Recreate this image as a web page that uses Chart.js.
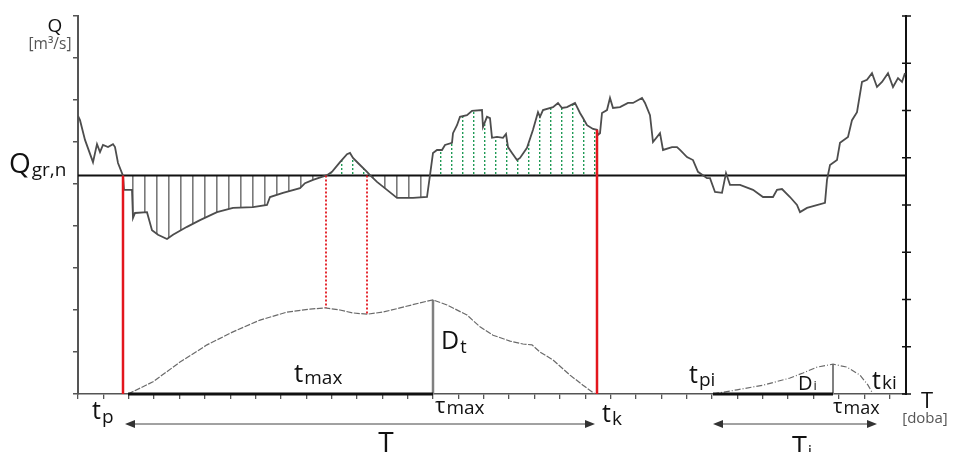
<!DOCTYPE html>
<html>
<head>
<meta charset="utf-8">
<script src="https://cdn.jsdelivr.net/npm/chart.js@4.4.1/dist/chart.umd.min.js"></script>
<style>
  html, body { margin: 0; padding: 0; background: #fff; }
  #wrap { width: 957px; height: 452px; }
</style>
</head>
<body>
<div id="wrap"><canvas id="hydro" width="957" height="452"></canvas></div>
<script>
// hydrograph Q(t) (days, m3/s)
const qDays = [0,0.08,0.28,0.6,0.76,0.88,1.0,1.2,1.4,1.48,1.6,1.8,1.84,2.16,2.2,2.28,2.76,2.96,3.2,3.56,3.8,4.36,4.88,5.56,6.2,7.0,7.56,7.68,8.2,8.88,9.08,9.4,9.96,10.16,10.48,10.76,10.88,11.0,11.2,11.56,11.68,11.96,12.36,12.76,13.4,13.96,14.08,14.2,14.36,14.56,14.68,14.96,15.0,15.16,15.28,15.56,15.76,16.16,16.2,16.36,16.48,16.56,16.76,17.0,17.12,17.2,17.36,17.56,17.68,17.96,18.2,18.4,18.48,18.6,19.0,19.2,19.36,19.56,19.88,20.08,20.2,20.36,20.6,20.76,20.8,20.88,20.96,21.16,21.28,21.4,21.68,22.0,22.2,22.56,22.68,22.88,23.0,23.28,23.4,23.76,23.96,24.08,24.36,24.6,24.8,25.16,25.28,25.48,25.76,25.92,26.08,26.48,27.0,27.4,27.8,27.96,28.16,28.48,28.76,28.88,29.16,29.88,29.96,30.08,30.36,30.48,30.8,30.96,31.16,31.36,31.56,31.76,31.96,32.16,32.4,32.6,32.8,32.96,33.08];
const qFlow = [66.2,65.2,60.5,55.2,59.5,57.6,59.3,58.8,59.5,58.8,55.0,52.0,48.6,48.6,41.9,43.1,43.3,39.0,37.9,36.9,37.9,39.8,41.4,43.3,44.3,44.5,45.0,46.9,47.9,49.0,50.2,51.0,52.1,52.9,55.2,57.1,57.4,56.2,55.0,52.9,52.1,50.5,48.6,46.7,46.7,46.9,52.1,57.4,58.1,58.1,59.3,59.8,62.1,64.0,66.0,66.4,67.4,67.6,63.6,66.0,65.7,61.0,61.2,61.0,61.9,58.8,57.4,55.7,56.2,58.6,62.9,67.1,66.0,67.6,68.3,69.3,68.1,68.3,69.3,66.9,65.7,64.0,63.1,62.9,61.7,62.1,66.9,67.6,70.5,68.1,68.3,69.3,69.3,70.5,69.3,66.4,60.0,62.1,58.1,58.8,58.8,58.1,56.4,55.7,52.9,51.4,51.4,48.1,47.9,52.6,49.8,49.8,48.6,46.9,46.9,48.6,48.8,46.9,45.0,43.3,44.3,45.5,51.0,54.5,55.7,59.8,61.2,65.2,67.1,74.3,74.8,76.4,73.1,74.3,76.4,73.1,75.2,74.3,76.4];

// threshold Q_gr,n
const qGr = 52;

// cumulated deficit of the main event
const def1Days = [2.0,3.0,4.08,5.16,6.2,7.28,8.36,9.28,9.88,10.48,11.0,11.56,12.2,12.88,13.68,14.2,14.76,15.56,16.08,16.6,17.28,17.8,18.16,18.48,19.0,19.68,20.2,20.68];
const def1Vals = [0,2.9,7.6,11.7,14.8,17.6,19.5,20.2,20.5,20.0,19.3,19.0,19.5,20.5,21.7,22.4,21.2,18.8,16.0,14.0,12.6,11.9,11.7,10.0,8.1,4.5,2.1,0];

// small event i
const def2Days = [25.4,26.36,27.4,28.48,29.0,29.56,30.2,30.76,31.28,31.6,31.8];
const def2Vals = [0,1.0,2.1,3.8,5.0,6.4,7.1,6.4,4.5,2.1,0];

// event times (days)
const tP = 1.8, tK = 20.76, tauMax = 14.2, dtMax = 22.4;
const pooled = [9.92, 11.56];       // dotted red lines
const pooledDef = [20.5, 19.0];
const tPi = 25.4, tauMaxI = 30.2, diMax = 7.1;
const arrowT = [1.88, 20.68];
const arrowTi = [25.4, 31.96];
const xMax = 33.12;

const FONT = '"Open Sans", "DejaVu Sans", sans-serif';
const RED = '#e3161d';

function pts(xs, ys) { return xs.map((x, i) => ({x: x, y: ys[i]})); }

function makePattern(w, h, color, dotted) {
  const c = document.createElement('canvas');
  c.width = w; c.height = h;
  const g = c.getContext('2d');
  g.fillStyle = color;
  if (dotted) g.fillRect(0, 0, 1.4, 2);
  else g.fillRect(0, 0, 1.6, h);
  return document.getElementById('hydro').getContext('2d').createPattern(c, 'repeat');
}
const grayHatch = makePattern(12, 8, '#7a7a7a', false);
const greenHatch = makePattern(11, 4, '#1f9a55', true);

const qPoints = pts(qDays, qFlow);
const eventPoints = qPoints.filter(p => p.x >= tP && p.x <= tK);
const qAtTk = qFlow[qDays.indexOf(tK)];

function txt(ctx, x, y, main, sub, big, small, drop, color) {
  ctx.fillStyle = color || '#111';
  ctx.font = big + 'px ' + FONT;
  ctx.fillText(main, x, y);
  if (sub) {
    const w = ctx.measureText(main).width;
    ctx.font = small + 'px ' + FONT;
    ctx.fillText(sub, x + w + 1, y + drop);
  }
}

const annotations = {
  id: 'annotations',
  afterDraw(chart) {
    const ctx = chart.ctx;
    const xs = chart.scales.x;
    const ca = chart.chartArea;
    ctx.save();

    // right axis ticks crossing the axis
    const y2 = chart.scales.y2;
    ctx.strokeStyle = '#111';
    ctx.lineWidth = 1.5;
    y2.ticks.forEach(t => {
      const py = y2.getPixelForValue(t.value);
      ctx.beginPath();
      ctx.moveTo(ca.right - 4, py);
      ctx.lineTo(ca.right + 5, py);
      ctx.stroke();
    });

    // arrows
    const ay = ca.bottom + 30;
    function arrow(a, b) {
      const x1 = xs.getPixelForValue(a), x2 = xs.getPixelForValue(b);
      ctx.strokeStyle = '#444';
      ctx.fillStyle = '#333';
      ctx.lineWidth = 1;
      ctx.beginPath(); ctx.moveTo(x1 + 6, ay); ctx.lineTo(x2 - 6, ay); ctx.stroke();
      ctx.beginPath(); ctx.moveTo(x1, ay); ctx.lineTo(x1 + 10, ay - 4); ctx.lineTo(x1 + 10, ay + 4); ctx.closePath(); ctx.fill();
      ctx.beginPath(); ctx.moveTo(x2, ay); ctx.lineTo(x2 - 10, ay - 4); ctx.lineTo(x2 - 10, ay + 4); ctx.closePath(); ctx.fill();
    }
    arrow(arrowT[0], arrowT[1]);
    arrow(arrowTi[0], arrowTi[1]);

    ctx.textBaseline = 'alphabetic';
    // axis titles
    ctx.textAlign = 'center';
    txt(ctx, 55, 32, 'Q', null, 19);
    txt(ctx, 50, 49, '[m³/s]', null, 15.5, 0, 0, '#555');
    txt(ctx, 927, 408, 'T', null, 22);
    txt(ctx, 925, 423, '[doba]', null, 15, 0, 0, '#555');
    txt(ctx, 386, 452, 'T', null, 28);
    ctx.textAlign = 'left';

    txt(ctx, 9, 173, 'Q', 'gr,n', 28, 19, 3);
    txt(ctx, 92, 419, 't', 'p', 25, 19, 4);
    txt(ctx, 294, 382, 't', 'max', 26, 19, 2);
    txt(ctx, 441, 349, 'D', 't', 25, 18, 4);
    txt(ctx, 435, 413, 'τ', 'max', 22, 19, 1);
    txt(ctx, 602, 422, 't', 'k', 25, 19, 3);
    txt(ctx, 689, 383, 't', 'pi', 25, 19, 3);
    txt(ctx, 798, 390, 'D', 'i', 20, 13, 0);
    txt(ctx, 872, 389, 't', 'ki', 25, 19, 0);
    txt(ctx, 833, 413, 'τ', 'max', 20, 18, 1);
    txt(ctx, 792, 456, 'T', 'i', 27, 17, 1);
    ctx.restore();
  }
};

const line = (data, color, width, extra) => Object.assign({
  data: data, borderColor: color, borderWidth: width,
  pointRadius: 0, fill: false, tension: 0
}, extra || {});

const config = {
  type: 'line',
  data: {
    datasets: [
      line([{x: tP, y: 0}, {x: tP, y: qGr}], RED, 2.5, {order: 0}),
      line([{x: tK, y: 0}, {x: tK, y: qAtTk}], RED, 2.5, {order: 0}),
      line([{x: pooled[0], y: qGr}, {x: pooled[0], y: pooledDef[0]}], RED, 1.8, {order: 0, borderDash: [2, 2]}),
      line([{x: pooled[1], y: qGr}, {x: pooled[1], y: pooledDef[1]}], RED, 1.8, {order: 0, borderDash: [2, 2]}),
      line(qPoints, '#4d4d4d', 1.8, {order: 1}),
      line([{x: 0, y: qGr}, {x: xMax, y: qGr}], '#111', 2, {order: 2}),
      line(pts(def1Days, def1Vals), '#6a6a6a', 1.2, {order: 3, borderDash: [6, 1.5]}),
      line(pts(def2Days, def2Vals), '#6a6a6a', 1.2, {order: 3, borderDash: [6, 2, 1, 2]}),
      line([{x: tauMax, y: 0}, {x: tauMax, y: dtMax}], '#808080', 2.5, {order: 3}),
      line([{x: tauMaxI, y: 0}, {x: tauMaxI, y: diMax}], '#808080', 2, {order: 3}),
      line([{x: def1Days[0], y: 0}, {x: tauMax, y: 0}], '#111', 3, {order: 1, clip: 4}),
      line([{x: tPi, y: 0}, {x: tauMaxI, y: 0}], '#111', 3, {order: 1, clip: 4}),
      line(eventPoints, 'rgba(0,0,0,0)', 0, {order: 9, fill: {target: {value: qGr}, above: greenHatch, below: grayHatch}})
    ]
  },
  options: {
    responsive: false,
    animation: false,
    events: [],
    devicePixelRatio: 1,
    layout: { padding: { top: 16 } },
    plugins: {
      legend: { display: false },
      tooltip: { enabled: false }
    },
    scales: {
      x: {
        type: 'linear',
        min: 0,
        max: xMax,
        ticks: { display: false, stepSize: 1.0144, includeBounds: false },
        grid: { drawOnChartArea: false, tickLength: 5, tickColor: '#555', lineWidth: 1.3 },
        border: { color: '#555', width: 1.5 },
        afterFit: s => { s.height = 58; }
      },
      y: {
        position: 'left',
        min: 0,
        max: 90,
        ticks: { display: false, stepSize: 10 },
        grid: { drawOnChartArea: false, tickLength: 5, tickColor: '#555', lineWidth: 1.5 },
        border: { color: '#555', width: 2 },
        afterFit: s => { s.width = 78; }
      },
      y2: {
        position: 'right',
        min: 0,
        max: 80,
        ticks: { display: false, stepSize: 10 },
        grid: { display: false },
        border: { color: '#111', width: 2 },
        afterFit: s => { s.width = 51; }
      }
    }
  },
  plugins: [annotations]
};

var hydro = document.getElementById('hydro');
const myHydroChart = new Chart(hydro, config);
</script>
</body>
</html>
